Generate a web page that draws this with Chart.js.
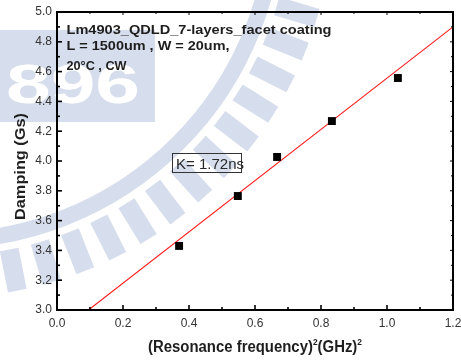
<!DOCTYPE html>
<html>
<head>
<meta charset="utf-8">
<script src="https://cdn.jsdelivr.net/npm/chart.js@4/dist/chart.umd.min.js"></script>
<style>
  html, body { margin: 0; padding: 0; background: #fff; overflow: hidden; }
  canvas { display: block; }
</style>
</head>
<body>
<canvas id="c" width="461" height="360"></canvas>
<script>
// Measured damping versus squared resonance frequency
const freqSq  = [0.370, 0.548, 0.667, 0.833, 1.033];   // (GHz)^2
const damping = [3.430, 3.765, 4.027, 4.268, 4.557];   // Gs

// Linear fit: damping = fitB + K * freqSq
const fitK = 1.72;   // ns
const fitB = 2.836;

const xTickLabels = ['0.0', '0.2', '0.4', '0.6', '0.8', '1.0', '1.2'];
const yTickLabels = ['3.0', '3.2', '3.4', '3.6', '3.8', '4.0', '4.2', '4.4', '4.6', '4.8', '5.0'];

const infoLines = ['Lm4903_QDLD_7-layers_facet coating', 'L = 1500um , W = 20um,', '20\u00B0C , CW'];
const slopeLabel = 'K= ' + fitK.toFixed(2) + 'ns';

const X_MIN = 0, X_MAX = 1.2, Y_MIN = 3, Y_MAX = 5;

const points = freqSq.map((v, i) => ({ x: v, y: damping[i] }));
const fitStart = (Y_MIN - fitB) / fitK;
const fitLine = [fitStart, X_MAX].map(v => ({ x: v, y: fitB + fitK * v }));

const FONT = '"Liberation Sans", Arial, Helvetica, sans-serif';
const WM = '#d6ddec';

// draw a string stretched to a given width
function drawFitted(ctx, str, x, y, font, width) {
  ctx.save();
  ctx.font = font;
  const w = ctx.measureText(str).width;
  ctx.translate(x, y);
  ctx.scale(width / w, 1);
  ctx.fillText(str, 0, 0);
  ctx.restore();
}

// pale seal drawn behind the plot
const seal = {
  id: 'seal',
  beforeDraw(chart) {
    const ctx = chart.ctx;
    ctx.save();
    ctx.fillStyle = '#fff';
    ctx.fillRect(0, 0, chart.width, chart.height);

    ctx.fillStyle = WM;
    ctx.fillRect(0, 30, 155, 92);
    ctx.fillStyle = '#fff';
    ctx.textBaseline = 'alphabetic';
    drawFitted(ctx, '896', 6, 103, 'bold 56px ' + FONT, 134);

    const cx = -58, cy = -93;
    ctx.strokeStyle = WM;
    ctx.lineWidth = 16;
    ctx.beginPath();
    ctx.arc(cx, cy, 334, 0, Math.PI / 2);
    ctx.stroke();

    ctx.fillStyle = WM;
    for (let a = 11.3; a < 92; a += 5.2) {
      ctx.save();
      ctx.translate(cx, cy);
      ctx.rotate(a * Math.PI / 180);
      ctx.fillRect(349, -9.5, 42, 19);
      ctx.restore();
    }
    ctx.restore();
  }
};

// box frame with inward major and minor ticks on all four sides
const frame = {
  id: 'frame',
  afterDatasetsDraw(chart) {
    const { ctx, chartArea: a, scales: { x, y } } = chart;
    const majX = x.ticks.map(t => t.value);
    const majY = y.ticks.map(t => t.value);
    const mid = arr => arr.slice(1).map((v, i) => (v + arr[i]) / 2);
    const minX = mid(majX), minY = mid(majY);
    ctx.save();
    ctx.strokeStyle = '#000';
    const tick = (x1, y1, x2, y2, lw) => {
      ctx.lineWidth = lw;
      ctx.beginPath(); ctx.moveTo(x1, y1); ctx.lineTo(x2, y2); ctx.stroke();
    };
    majX.forEach(v => { const p = x.getPixelForValue(v); tick(p, a.bottom, p, a.bottom - 5, 1.6); tick(p, a.top, p, a.top + 3, 1); });
    minX.forEach(v => { const p = x.getPixelForValue(v); tick(p, a.bottom, p, a.bottom - 3, 1.6); tick(p, a.top, p, a.top + 2, 1); });
    majY.forEach(v => { const p = y.getPixelForValue(v); tick(a.left, p, a.left + 5, p, 1.6); tick(a.right, p, a.right - 3, p, 1); });
    minY.forEach(v => { const p = y.getPixelForValue(v); tick(a.left, p, a.left + 3, p, 1.6); tick(a.right, p, a.right - 2, p, 1); });
    ctx.lineWidth = 2;
    ctx.strokeRect(a.left, a.top, a.right - a.left, a.bottom - a.top);
    ctx.restore();
  }
};

// sample description, slope box and axis titles
const labels = {
  id: 'labels',
  afterDraw(chart) {
    const ctx = chart.ctx;
    ctx.save();
    ctx.fillStyle = '#1e1e1e';
    ctx.textBaseline = 'alphabetic';
    drawFitted(ctx, infoLines[0], 66.5, 33.5, 'bold 13px ' + FONT, 265);
    drawFitted(ctx, infoLines[1], 66.5, 50.3, 'bold 13px ' + FONT, 163);
    drawFitted(ctx, infoLines[2], 66.5, 70, 'bold 13px ' + FONT, 60);

    ctx.strokeStyle = '#333';
    ctx.lineWidth = 1;
    ctx.strokeRect(172.5, 153.5, 69, 19);
    ctx.fillStyle = '#2a2a2a';
    ctx.font = '15px ' + FONT;
    ctx.fillText(slopeLabel, 176, 168.5);

    // y title
    ctx.fillStyle = '#1e1e1e';
    ctx.save();
    ctx.translate(24.5, 220);
    ctx.rotate(-Math.PI / 2);
    drawFitted(ctx, 'Damping (Gs)', 0, 0, 'bold 15px ' + FONT, 107);
    ctx.restore();

    // x title with superscripts
    const segs = [
      ['(Resonance frequency)', 'bold 16px ' + FONT, 0],
      ['2', 'bold 9px ' + FONT, -7],
      ['(GHz)', 'bold 16px ' + FONT, 0],
      ['2', 'bold 9px ' + FONT, -7]
    ];
    let total = 0;
    segs.forEach(s => { ctx.font = s[1]; s.push(ctx.measureText(s[0]).width); total += s[3]; });
    const k = 214 / total;
    ctx.save();
    ctx.translate(148, 352);
    ctx.scale(k, 1);
    let px = 0;
    segs.forEach(s => { ctx.font = s[1]; ctx.fillText(s[0], px, s[2]); px += s[3]; });
    ctx.restore();
    ctx.restore();
  }
};

const tickFont = { family: FONT, size: 12 };

new Chart(document.getElementById('c'), {
  type: 'scatter',
  data: {
    datasets: [
      {
        type: 'line',
        data: fitLine,
        borderColor: '#ff1a1a',
        borderWidth: 1.1,
        pointRadius: 0,
        fill: false,
        order: 2
      },
      {
        data: points,
        pointStyle: 'rect',
        pointRadius: 5.6,
        backgroundColor: '#000',
        borderColor: '#000',
        borderWidth: 0,
        order: 1
      }
    ]
  },
  options: {
    responsive: false,
    animation: false,
    devicePixelRatio: 1,
    layout: { padding: { top: 12, right: 8, left: 0, bottom: 0 } },
    plugins: { legend: { display: false }, tooltip: { enabled: false } },
    scales: {
      x: {
        type: 'linear', min: X_MIN, max: X_MAX,
        grid: { display: false, drawTicks: false },
        border: { display: false },
        ticks: {
          stepSize: 0.2, padding: 6, color: '#333', font: tickFont,
          maxRotation: 0, autoSkip: false,
          callback: (v, i) => xTickLabels[i]
        },
        afterFit(s) { s.height = 50; s.paddingLeft = 0; s.paddingRight = 0; }
      },
      y: {
        type: 'linear', min: Y_MIN, max: Y_MAX,
        grid: { display: false, drawTicks: false },
        border: { display: false },
        ticks: {
          stepSize: 0.2, padding: 5, color: '#333', font: tickFont,
          autoSkip: false,
          callback: (v, i) => yTickLabels[i]
        },
        afterFit(s) { s.width = 57; s.paddingTop = 0; s.paddingBottom = 0; }
      }
    }
  },
  plugins: [seal, frame, labels]
});
</script>
</body>
</html>
